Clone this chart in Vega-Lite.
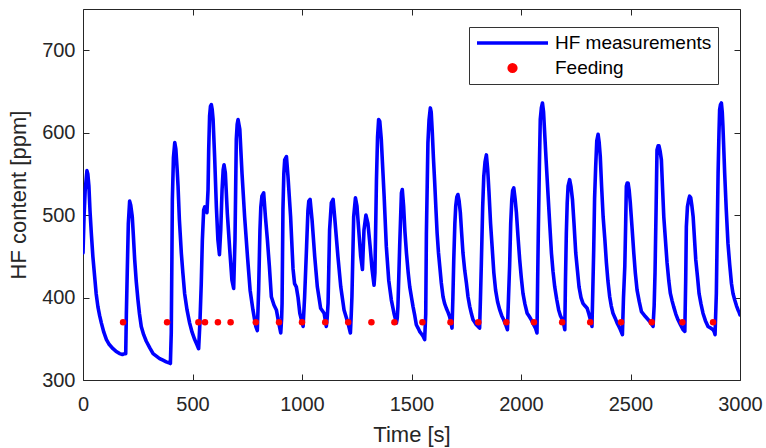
{
  "$schema": "https://vega.github.io/schema/vega-lite/v6.json",
  "width": 657,
  "height": 371,
  "autosize": {"type": "none"},
  "padding": {"left": 83, "top": 9, "right": 26, "bottom": 68},
  "background": "white",
  "config": {
    "view": {"stroke": null},
    "font": "Liberation Sans",
    "axis": {
      "grid": false,
      "domainColor": "#262626",
      "tickColor": "#262626",
      "labelColor": "#262626",
      "titleColor": "#262626",
      "labelFont": "Liberation Sans",
      "titleFont": "Liberation Sans",
      "labelFontSize": 20,
      "titleFontSize": 22,
      "titleFontWeight": "normal",
      "tickSize": -6,
      "domainWidth": 1,
      "tickWidth": 1
    }
  },
  "datasets": {
    "hf": [
      {"t":0,"v":454},{"t":5,"v":500},{"t":10,"v":530},{"t":18,"v":554},{"t":22,"v":550},{"t":27,"v":535},{"t":32,"v":505},{"t":38,"v":478},{"t":45,"v":450},{"t":53,"v":426},{"t":60,"v":405},{"t":68,"v":389},{"t":76,"v":378},{"t":84,"v":369},{"t":95,"v":358},{"t":107,"v":349},{"t":120,"v":343},{"t":137,"v":338},{"t":150,"v":335},{"t":167,"v":332},{"t":180,"v":331},{"t":190,"v":332},{"t":195,"v":332},{"t":198,"v":380},{"t":202,"v":430},{"t":207,"v":490},{"t":213,"v":517},{"t":218,"v":512},{"t":225,"v":498},{"t":230,"v":475},{"t":236,"v":446},{"t":243,"v":420},{"t":251,"v":397},{"t":258,"v":380},{"t":266,"v":365},{"t":277,"v":355},{"t":289,"v":347},{"t":305,"v":339},{"t":320,"v":332},{"t":335,"v":329},{"t":350,"v":326},{"t":365,"v":324},{"t":380,"v":322},{"t":392,"v":321},{"t":399,"v":320},{"t":403,"v":357},{"t":406,"v":450},{"t":408,"v":519},{"t":413,"v":570},{"t":419,"v":588},{"t":424,"v":580},{"t":430,"v":555},{"t":434,"v":535},{"t":440,"v":495},{"t":449,"v":454},{"t":456,"v":430},{"t":464,"v":405},{"t":475,"v":385},{"t":487,"v":369},{"t":498,"v":358},{"t":510,"v":349},{"t":520,"v":343},{"t":528,"v":338},
      {"t":534,"v":370},{"t":540,"v":417},{"t":545,"v":470},{"t":551,"v":506},{"t":556,"v":510},{"t":561,"v":509},{"t":566,"v":503},{"t":571,"v":531},{"t":574,"v":580},{"t":578,"v":620},{"t":582,"v":632},{"t":586,"v":634},{"t":590,"v":628},{"t":594,"v":616},{"t":601,"v":571},{"t":609,"v":510},{"t":616,"v":470},{"t":623,"v":452},{"t":629,"v":482},{"t":635,"v":531},{"t":640,"v":555},{"t":644,"v":561},{"t":650,"v":551},{"t":659,"v":502},{"t":670,"v":458},{"t":680,"v":421},{"t":688,"v":411},{"t":694,"v":470},{"t":697,"v":530},{"t":700,"v":592},{"t":704,"v":610},{"t":708,"v":616},{"t":716,"v":604},{"t":726,"v":551},{"t":738,"v":498},{"t":751,"v":450},{"t":763,"v":409},{"t":776,"v":385},{"t":789,"v":365},{"t":796,"v":360},{"t":802,"v":409},{"t":808,"v":482},{"t":812,"v":510},{"t":817,"v":523},{"t":825,"v":527},{"t":833,"v":498},{"t":842,"v":470},{"t":851,"v":438},{"t":860,"v":401},{"t":872,"v":391},{"t":883,"v":385},{"t":894,"v":369},{"t":903,"v":357},{"t":907,"v":375},{"t":909,"v":393},{"t":913,"v":507},{"t":917,"v":550},{"t":921,"v":567},{"t":929,"v":571},{"t":936,"v":547},{"t":948,"v":498},{"t":959,"v":435},{"t":966,"v":417},{"t":974,"v":413},{"t":982,"v":400},{"t":990,"v":381},{"t":1005,"v":365},{"t":1012,"v":401},{"t":1021,"v":462},{"t":1027,"v":505},{"t":1031,"v":517},{"t":1037,"v":519},{"t":1046,"v":494},{"t":1058,"v":450},{"t":1070,"v":413},{"t":1085,"v":387},{"t":1101,"v":381},{"t":1111,"v":365},{"t":1115,"v":375},{"t":1119,"v":393},{"t":1126,"v":482},{"t":1134,"v":515},{"t":1142,"v":519},{"t":1149,"v":498},{"t":1164,"v":450},{"t":1177,"v":413},{"t":1192,"v":385},{"t":1210,"v":369},{"t":1221,"v":357},{"t":1225,"v":380},{"t":1228,"v":401},{"t":1236,"v":498},{"t":1244,"v":521},{"t":1251,"v":511},{"t":1259,"v":482},{"t":1268,"v":450},{"t":1276,"v":434},{"t":1283,"v":482},{"t":1292,"v":500},{"t":1301,"v":490},{"t":1311,"v":462},{"t":1320,"v":434},{"t":1329,"v":415},{"t":1333,"v":430},{"t":1335,"v":462},{"t":1340,"v":543},{"t":1345,"v":595},{"t":1350,"v":616},{"t":1355,"v":614},{"t":1362,"v":592},{"t":1375,"v":523},{"t":1385,"v":462},{"t":1396,"v":421},{"t":1408,"v":397},{"t":1420,"v":381},{"t":1431,"v":369},{"t":1435,"v":375},{"t":1438,"v":389},{"t":1446,"v":462},{"t":1454,"v":527},{"t":1458,"v":531},{"t":1464,"v":511},
      {"t":1470,"v":480},{"t":1477,"v":454},{"t":1485,"v":430},{"t":1492,"v":413},{"t":1500,"v":400},{"t":1507,"v":389},{"t":1515,"v":378},{"t":1522,"v":367},{"t":1530,"v":363},{"t":1537,"v":359},{"t":1545,"v":356},{"t":1553,"v":353},{"t":1560,"v":349},{"t":1565,"v":380},{"t":1568,"v":478},{"t":1572,"v":540},{"t":1575,"v":588},{"t":1580,"v":615},{"t":1586,"v":630},{"t":1590,"v":625},{"t":1595,"v":600},{"t":1600,"v":570},{"t":1606,"v":539},{"t":1612,"v":505},{"t":1617,"v":478},{"t":1623,"v":455},{"t":1629,"v":438},{"t":1636,"v":418},{"t":1644,"v":401},{"t":1651,"v":393},{"t":1659,"v":387},{"t":1667,"v":382},{"t":1674,"v":377},{"t":1680,"v":370},{"t":1685,"v":363},{"t":1689,"v":400},{"t":1693,"v":446},{"t":1698,"v":490},{"t":1702,"v":511},{"t":1707,"v":522},{"t":1712,"v":525},{"t":1717,"v":518},{"t":1723,"v":503},{"t":1729,"v":478},{"t":1735,"v":454},{"t":1743,"v":433},{"t":1751,"v":417},{"t":1758,"v":401},{"t":1766,"v":389},{"t":1774,"v":380},{"t":1781,"v":373},{"t":1789,"v":370},{"t":1796,"v":367},{"t":1804,"v":365},{"t":1811,"v":363},{"t":1815,"v":400},{"t":1819,"v":442},{"t":1825,"v":510},{"t":1830,"v":547},{"t":1836,"v":565},{"t":1842,"v":573},{"t":1848,"v":555},{"t":1854,"v":527},{"t":1861,"v":490},{"t":1869,"v":458},{"t":1876,"v":430},{"t":1884,"v":409},{"t":1893,"v":395},{"t":1903,"v":385},{"t":1912,"v":378},{"t":1921,"v":373},{"t":1930,"v":367},{"t":1938,"v":361},{"t":1943,"v":400},{"t":1948,"v":438},{"t":1953,"v":490},{"t":1958,"v":519},{"t":1962,"v":530},{"t":1967,"v":533},{"t":1973,"v":520},{"t":1979,"v":503},{"t":1986,"v":475},{"t":1994,"v":446},{"t":2001,"v":425},{"t":2009,"v":405},{"t":2018,"v":392},{"t":2028,"v":381},{"t":2038,"v":377},{"t":2047,"v":373},{"t":2056,"v":368},{"t":2066,"v":363},{"t":2073,"v":357},{"t":2076,"v":420},{"t":2079,"v":478},{"t":2084,"v":560},{"t":2088,"v":616},{"t":2093,"v":630},{"t":2098,"v":636},{"t":2103,"v":625},{"t":2108,"v":600},{"t":2115,"v":565},{"t":2123,"v":527},{"t":2131,"v":490},{"t":2139,"v":454},{"t":2146,"v":432},{"t":2154,"v":413},{"t":2163,"v":398},{"t":2172,"v":385},{"t":2180,"v":378},{"t":2189,"v":373},{"t":2195,"v":368},{"t":2200,"v":361},{"t":2203,"v":420},{"t":2207,"v":478},{"t":2211,"v":515},{"t":2215,"v":535},{"t":2222,"v":543},{"t":2228,"v":535},{"t":2235,"v":519},{"t":2242,"v":490},{"t":2250,"v":454},{"t":2258,"v":432},{"t":2265,"v":413},{"t":2274,"v":400},{"t":2283,"v":393},{"t":2292,"v":390},{"t":2302,"v":387},{"t":2310,"v":380},{"t":2317,"v":373},{"t":2324,"v":365},{"t":2328,"v":410},{"t":2332,"v":458},{"t":2336,"v":520},{"t":2341,"v":559},{"t":2346,"v":590},{"t":2352,"v":598},{"t":2357,"v":588},{"t":2362,"v":571},{"t":2368,"v":535},{"t":2375,"v":498},{"t":2383,"v":470},{"t":2390,"v":442},{"t":2397,"v":420},{"t":2405,"v":401},{"t":2412,"v":390},{"t":2420,"v":381},{"t":2430,"v":375},{"t":2439,"v":369},{"t":2447,"v":365},{"t":2454,"v":361},{"t":2463,"v":355},{"t":2468,"v":400},{"t":2474,"v":438},{"t":2478,"v":490},{"t":2481,"v":535},{"t":2485,"v":539},{"t":2489,"v":539},{"t":2494,"v":530},{"t":2499,"v":515},{"t":2507,"v":485},{"t":2515,"v":454},{"t":2522,"v":430},{"t":2530,"v":409},{"t":2540,"v":395},{"t":2550,"v":383},{"t":2559,"v":380},{"t":2568,"v":377},{"t":2578,"v":374},{"t":2588,"v":371},{"t":2596,"v":368},{"t":2603,"v":365},{"t":2608,"v":390},{"t":2612,"v":430},{"t":2617,"v":510},{"t":2621,"v":579},{"t":2626,"v":584},{"t":2630,"v":584},{"t":2635,"v":578},{"t":2641,"v":567},{"t":2646,"v":535},{"t":2652,"v":498},{"t":2660,"v":468},{"t":2667,"v":442},{"t":2675,"v":420},{"t":2682,"v":405},{"t":2690,"v":396},{"t":2697,"v":389},{"t":2707,"v":380},{"t":2717,"v":373},{"t":2728,"v":367},{"t":2740,"v":361},{"t":2748,"v":359},{"t":2752,"v":420},{"t":2755,"v":486},{"t":2760,"v":510},{"t":2766,"v":519},{"t":2770,"v":523},{"t":2775,"v":521},{"t":2780,"v":512},{"t":2786,"v":498},{"t":2792,"v":472},{"t":2798,"v":446},{"t":2806,"v":425},{"t":2813,"v":405},{"t":2822,"v":392},{"t":2831,"v":381},{"t":2842,"v":372},{"t":2854,"v":365},{"t":2866,"v":363},{"t":2877,"v":361},{"t":2883,"v":358},{"t":2886,"v":355},{"t":2889,"v":380},{"t":2892,"v":405},{"t":2896,"v":480},{"t":2900,"v":551},{"t":2904,"v":600},{"t":2907,"v":628},{"t":2911,"v":634},{"t":2915,"v":636},{"t":2919,"v":625},{"t":2922,"v":608},{"t":2926,"v":580},{"t":2930,"v":551},{"t":2937,"v":508},{"t":2945,"v":466},{"t":2953,"v":440},{"t":2961,"v":417},{"t":2968,"v":405},{"t":2976,"v":397},{"t":2984,"v":390},{"t":2991,"v":385},{"t":2996,"v":382},{"t":3000,"v":379}
    ],
    "feed": [
      {"t":183,"v":370},{"t":384,"v":370},{"t":527,"v":370},{"t":557,"v":370},{"t":616,"v":370},{"t":674,"v":370},{"t":789,"v":370},{"t":895,"v":370},{"t":1000,"v":370},{"t":1106,"v":370},{"t":1211,"v":370},{"t":1317,"v":370},{"t":1422,"v":370},{"t":1550,"v":370},{"t":1678,"v":370},{"t":1805,"v":370},{"t":1933,"v":370},{"t":2059,"v":370},{"t":2188,"v":370},{"t":2316,"v":370},{"t":2457,"v":370},{"t":2597,"v":370},{"t":2737,"v":370},{"t":2877,"v":370}
    ]
  },
  "layer": [
    {
      "data": {"name": "hf"},
      "mark": {"type": "line", "strokeWidth": 3.6, "strokeJoin": "round", "strokeCap": "round", "clip": true},
      "encoding": {
        "x": {"field": "t", "type": "quantitative",
              "scale": {"domain": [0, 3000], "nice": false, "zero": false},
              "axis": {"orient": "bottom", "title": "Time [s]", "values": [0,500,1000,1500,2000,2500,3000], "format": "d", "labelPadding": 20, "titlePadding": 10, "labelFlush": false}},
        "y": {"field": "v", "type": "quantitative",
              "scale": {"domain": [300, 750], "nice": false, "zero": false},
              "axis": {"orient": "left", "title": "HF content [ppm]", "values": [300,400,500,600,700], "format": "d", "labelPadding": 14, "titlePadding": 11, "labelFlush": false}},
        "color": {"datum": "HF measurements", "type": "nominal",
                  "scale": {"domain": ["HF measurements", "Feeding"], "range": ["#0000ff", "#ff0000"]},
                  "legend": {
                    "orient": "none", "legendX": 386, "legendY": 18, "direction": "vertical",
                    "title": null, "fillColor": "white", "strokeColor": "#333333", "padding": 6,
                    "labelFont": "Liberation Sans", "labelFontSize": 19, "labelColor": "#000000", "labelOffset": 5,
                    "symbolType": "stroke", "symbolSize": 5041, "symbolStrokeWidth": 3.5,
                    "clipHeight": 20, "rowPadding": 5,
                    "encode": {"symbols": {"update": {
                      "shape": {"signal": "datum.value === 'Feeding' ? 'M -0.095,0 A 0.095,0.095 0 1,0 0.095,0 A 0.095,0.095 0 1,0 -0.095,0 Z' : 'stroke'"},
                      "fill": {"signal": "datum.value === 'Feeding' ? '#ff0000' : 'transparent'"},
                      "stroke": {"signal": "datum.value === 'Feeding' ? 'transparent' : '#0000ff'"},
                      "opacity": {"value": 1}
                    }}}
                  }}
      }
    },
    {
      "data": {"name": "feed"},
      "mark": {"type": "point", "filled": true, "size": 42, "opacity": 1, "shape": "circle"},
      "encoding": {
        "x": {"field": "t", "type": "quantitative",
              "axis": {"orient": "top", "title": null, "labels": false, "values": [0,500,1000,1500,2000,2500,3000]}},
        "y": {"field": "v", "type": "quantitative",
              "axis": {"orient": "right", "title": null, "labels": false, "values": [300,400,500,600,700]}},
        "color": {"datum": "Feeding", "type": "nominal"}
      }
    }
  ],
  "resolve": {"axis": {"x": "independent", "y": "independent"}}
}
